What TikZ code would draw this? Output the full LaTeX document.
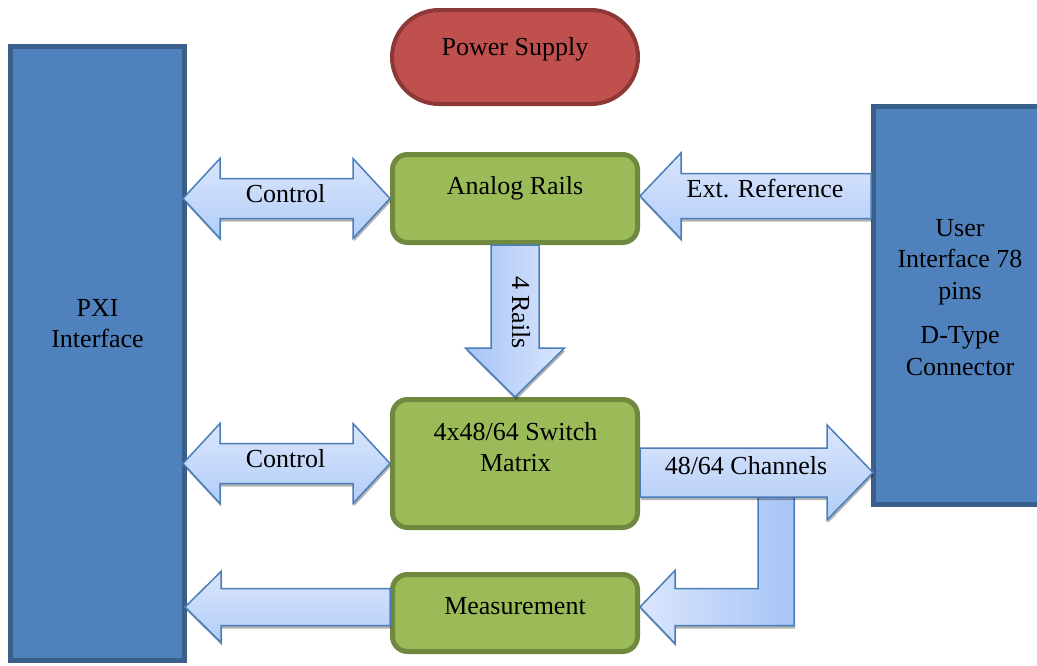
\documentclass[tikz,border=0pt]{standalone}
\usepackage{fontspec}
\setmainfont{Liberation Serif}
\usetikzlibrary{calc,shadows}

\definecolor{pxifill}{HTML}{4F81BD}
\definecolor{pxiline}{HTML}{3A5F8B}
\definecolor{psfill}{HTML}{C0504D}
\definecolor{psline}{HTML}{8C3836}
\definecolor{grfill}{HTML}{9BBB59}
\definecolor{grline}{HTML}{71893F}
\definecolor{arline}{HTML}{4A7EBB}
\definecolor{arlight}{HTML}{DAE6FC}
\definecolor{ardark}{HTML}{B2CCF8}
\definecolor{ardeep}{HTML}{A6C4F6}

\tikzset{
  lbl/.style={font=\fontsize{26}{31.5}\selectfont, inner sep=0pt, anchor=base},
  bluebox/.style={draw=pxiline, fill=pxifill, line width=5pt, inner sep=0pt},
  greenbox/.style={draw=grline, fill=grfill, line width=5pt, rounded corners=15pt,
                   inner sep=0pt, minimum width=245pt},
  redbox/.style={draw=psline, fill=psfill, line width=4pt, rounded corners=47pt, inner sep=0pt},
  blockarrow/.style={draw=arline, line width=1.5pt, line join=miter,
                     drop shadow={shadow xshift=1pt, shadow yshift=-3pt, fill=black, opacity=0.3}},
  vgrad/.style={top color=arlight, bottom color=ardark},
}

% double-headed block arrow: left tip, right tip, shaft half-width, head half-width, head length
\newcommand\dblarrow[5]{%
  \path[blockarrow,vgrad] let \p1=(#1), \p2=(#2) in
    (\x1,\y1) -- (\x1+#5,\y1+#4) -- (\x1+#5,\y1+#3) -- (\x2-#5,\y1+#3) -- (\x2-#5,\y1+#4)
    -- (\x2,\y1) -- (\x2-#5,\y1-#4) -- (\x2-#5,\y1-#3) -- (\x1+#5,\y1-#3) -- (\x1+#5,\y1-#4) -- cycle;}
% block arrow pointing left: tip, tail, shaft half-width, head half-width, head length
\newcommand\leftblk[5]{%
  \path[blockarrow,vgrad] let \p1=(#1), \p2=(#2) in
    (\x1,\y1) -- (\x1+#5,\y1+#4) -- (\x1+#5,\y1+#3) -- (\x2,\y1+#3) -- (\x2,\y1-#3)
    -- (\x1+#5,\y1-#3) -- (\x1+#5,\y1-#4) -- cycle;}
% block arrow pointing right: tail, tip, shaft half-width, head half-width, head length
\newcommand\rightblk[5]{%
  \path[blockarrow,vgrad] let \p1=(#1), \p2=(#2) in
    (\x1,\y2+#3) -- (\x2-#5,\y2+#3) -- (\x2-#5,\y2+#4) -- (\x2,\y2) -- (\x2-#5,\y2-#4)
    -- (\x2-#5,\y2-#3) -- (\x1,\y2-#3) -- cycle;}

\begin{document}
\begin{tikzpicture}[x=1pt,y=1pt]
\useasboundingbox (0,0) rectangle (1037,-665);

% blocks
\node[bluebox, minimum width=174pt, minimum height=614pt] (pxi) at (97.5,-353.5) {};
\node[bluebox, minimum width=171.5pt, minimum height=398pt] (ui) at (959.25,-305.5) {};
\node[redbox, minimum width=246pt, minimum height=94pt] (ps) at (515,-57) {};
\node[greenbox, minimum height=88pt] (ar) at (515,-198.5) {};
\node[greenbox, minimum height=128pt] (sm) at (515,-463.5) {};
\node[greenbox, minimum height=77pt] (ms) at (515,-613) {};

% connector end points
\coordinate (c1a) at (pxi.east |- ar.west);
\coordinate (c2a) at (pxi.east |- sm.west);
\coordinate (arE) at ([yshift=2.5pt]ar.east);
\coordinate (erT) at (ui.west |- arE);
\coordinate (chS) at ([yshift=-9pt]sm.east);
\coordinate (chT) at ([xshift=2pt]ui.west |- chS);
\coordinate (bend) at ([xshift=136pt]chS);
\coordinate (msE) at ([yshift=6pt]ms.east);
\coordinate (msW) at ([yshift=6pt]ms.west);
\coordinate (mpT) at (pxi.east |- msW);

% control links
\dblarrow{[xshift=-4pt]c1a}{ar.west}{20pt}{40pt}{37pt}
\dblarrow{[xshift=-4pt]c2a}{sm.west}{20pt}{40pt}{37pt}

% external reference into the analog rails
\leftblk{arE}{erT}{22.5pt}{43pt}{41pt}

% rails down into the switch matrix
\path[blockarrow, left color=ardeep, right color=arlight] let \p1=(ar.south), \p2=(sm.north) in
  (\x1-24pt,\y1) -- (\x1+24pt,\y1) -- (\x1+24pt,\y2+49pt) -- (\x1+49.5pt,\y2+49pt)
  -- (\x1,\y2) -- (\x1-49.5pt,\y2+49pt) -- (\x1-24pt,\y2+49pt) -- cycle;

% channel tap down to measurement
\path[blockarrow, left color=arlight, right color=ardeep] let \p1=(msE), \p2=(bend) in
  (\x1,\y1) -- (\x1+35pt,\y1+36.5pt) -- (\x1+35pt,\y1+18.5pt) -- (\x2-18pt,\y1+18.5pt)
  -- (\x2-18pt,\y2) -- (\x2+18pt,\y2) -- (\x2+18pt,\y1-18.5pt) -- (\x1+35pt,\y1-18.5pt)
  -- (\x1+35pt,\y1-36.5pt) -- cycle;

% channels out to the user interface
\rightblk{chS}{chT}{24.5pt}{47.5pt}{46pt}

% measurement back to PXI
\leftblk{[xshift=-2pt]mpT}{msW}{18.5pt}{35.5pt}{36pt}

% labels
\node[lbl] (psT) at (515,-55) {Power Supply};
\node[lbl] (arT) at (515,-194.5) {Analog Rails};
\node[lbl] (smT) at (515.5,-440) {\begin{tabular}[t]{@{}c@{}}4x48/64 Switch\\Matrix\end{tabular}};
\node[lbl] (msT) at (515,-614) {Measurement};
\node[lbl] (pxiT) at (97.5,-316) {\begin{tabular}[t]{@{}c@{}}PXI\\Interface\end{tabular}};
\node[lbl] (uiT) at (960,-236) {\begin{tabular}[t]{@{}c@{}}User\\Interface 78\\pins\\[13pt]D-Type\\Connector\end{tabular}};
\node[lbl] (c1T) at (285.5,-202) {Control};
\node[lbl] (c2T) at (285.5,-467) {Control};
\node[lbl] (erTx) at (765,-197) {Ext. Reference};
\node[lbl] (chTx) at (746,-474) {48/64 Channels};
\node[lbl, rotate=-90] (rlT) at (512,-312.5) {4 Rails};
\end{tikzpicture}
\end{document}
